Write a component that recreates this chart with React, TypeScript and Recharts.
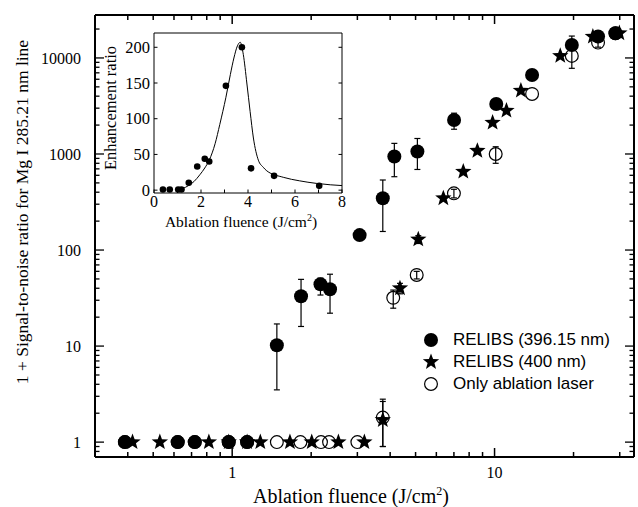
import React from 'react';
import { ScatterChart, ComposedChart, Scatter, Line, XAxis, YAxis, ErrorBar, Legend } from 'recharts';

const SERIF = '"Liberation Serif", "Times New Roman", serif';
const SANS = '"Liberation Sans", Arial, sans-serif';

// RELIBS (396.15 nm) - filled circles
const relibs396X = [0.39, 0.62, 0.72, 0.97, 1.14, 1.48, 1.83, 2.17, 2.36, 3.06, 3.75, 4.15, 5.08, 7.01, 10.15, 13.9, 19.7, 24.8, 28.9];
const relibs396Y = [1, 1, 1, 1, 1, 10.2, 33, 44, 39, 143, 346, 940, 1060, 2260, 3320, 6650, 13650, 16700, 18100];
const relibs396Err = [null, null, null, null, null, [6.7, 6.8], [17, 16.5], [10, 7], [17, 17], null, [190, 190], [360, 350], [370, 390], [450, 400], null, null, null, [1200, 1200], null];

// RELIBS (400 nm) - stars
const relibs400X = [0.417, 0.53, 0.815, 0.97, 1.14, 1.28, 1.66, 2.01, 2.54, 3.19, 3.75, 4.36, 5.12, 6.38, 7.6, 8.6, 9.83, 11.1, 12.6, 17.8, 23.7, 29.9];
const relibs400Y = [1, 1, 1, 1, 1, 1, 1, 1, 1, 1, 1.7, 40, 129, 346, 655, 1080, 2120, 2830, 4570, 10500, 16700, 18100];
const relibs400Err = [null, null, null, null, null, null, null, null, null, null, [0.8, 0.95], [5, 5], [12, 12], null, null, null, null, null, null, null, null, null];

// Only ablation laser - open circles
const ablationX = [0.39, 0.62, 0.72, 0.97, 1.14, 1.48, 1.82, 2.18, 2.34, 3.0, 3.75, 4.11, 5.05, 7.0, 10.1, 13.9, 19.7, 24.8, 28.9];
const ablationY = [1, 1, 1, 1, 1, 1, 1, 1, 1, 1, 1.8, 31.8, 55, 389, 1000, 4220, 10500, 14450, 18100];
const ablationErr = [null, null, null, null, null, null, null, null, null, null, [0.9, 1.0], [7, 6.5], [5, 5], [40, 40], [200, 190], null, [2700, 6400], [1500, 1500], null];

const xTicks = [0.4, 0.5, 0.6, 0.7, 0.8, 0.9, 1, 2, 3, 4, 5, 6, 7, 8, 9, 10, 20, 30];
const xTickLabels = [1, 10];
const yTicks = [0.8, 0.9, 1, 2, 3, 4, 5, 6, 7, 8, 9, 10, 20, 30, 40, 50, 60, 70, 80, 90, 100, 200, 300, 400, 500, 600, 700, 800, 900,
  1000, 2000, 3000, 4000, 5000, 6000, 7000, 8000, 9000, 10000, 20000];
const yTickLabels = [1, 10, 100, 1000, 10000];

// inset: enhancement ratio
const insetX = [0.38, 0.67, 1.03, 1.17, 1.48, 1.84, 2.16, 2.35, 3.06, 3.74, 4.13, 5.11, 7.03];
const insetY = [1, 1, 1, 1, 10.3, 33, 44, 40, 146, 200, 30.5, 20, 6];
const fitX = [1.05, 1.2, 1.48, 1.7, 1.95, 2.16, 2.35, 2.6, 2.8, 3.06, 3.25, 3.4, 3.55, 3.67, 3.8, 3.95, 4.09, 4.23, 4.44, 4.65, 4.8, 5.5, 6.2, 6.9, 7.5, 8.0];
const fitY = [0.5, 2, 6.6, 12, 21.5, 31, 42, 65, 92, 130, 162, 185, 202, 207, 190, 150, 110, 73, 42, 32, 27, 18, 13, 9.5, 7.5, 6.4];
const insetXTicks = [0, 1, 2, 3, 4, 5, 6, 7, 8];
const insetXLabels = [0, 2, 4, 6, 8];
const insetYTicks = [0, 50, 100, 150, 200];

const toRows = (xs: number[], ys: number[], errs?: any[]) =>
  xs.map((x, i) => ({ x, y: ys[i], err: errs ? errs[i] ?? undefined : undefined }));

const relibs396 = toRows(relibs396X, relibs396Y, relibs396Err);
const relibs400 = toRows(relibs400X, relibs400Y, relibs400Err);
const ablation = toRows(ablationX, ablationY, ablationErr);
const insetPoints = toRows(insetX, insetY);
const fitLine = toRows(fitX, fitY);

const isDecade = (v: number) => Math.abs(Math.log10(v) - Math.round(Math.log10(v))) < 1e-6;

const starPath = (cx: number, cy: number, R: number, r: number) => {
  let d = '';
  for (let i = 0; i < 10; i++) {
    const rad = i % 2 === 0 ? R : r;
    const a = -Math.PI / 2 + (i * Math.PI) / 5;
    d += (i === 0 ? 'M' : 'L') + (cx + rad * Math.cos(a)).toFixed(2) + ',' + (cy + rad * Math.sin(a)).toFixed(2);
  }
  return d + 'Z';
};

const FilledDot = (p: any) => <circle cx={p.cx} cy={p.cy} r={7} fill="#000" />;
const OpenDot = (p: any) => <circle cx={p.cx} cy={p.cy} r={6.4} fill="none" stroke="#000" strokeWidth={1.2} />;
const StarDot = (p: any) => <path d={starPath(p.cx, p.cy, 8.6, 3.6)} fill="#000" />;
const SmallDot = (p: any) => <circle cx={p.cx} cy={p.cy} r={3.3} fill="#000" />;

const BottomTick = (p: any) => {
  const v = p.payload.value;
  const major = isDecade(v);
  return (
    <g>
      <line x1={p.x} x2={p.x} y1={p.y} y2={p.y - (major ? 9 : 5)} stroke="#000" strokeWidth={1.5} />
      {xTickLabels.includes(v) && (
        <text x={p.x} y={p.y + 21} textAnchor="middle" fontFamily={SERIF} fontSize={16} fill="#000">{v}</text>
      )}
    </g>
  );
};
const TopTick = (p: any) => (
  <line x1={p.x} x2={p.x} y1={p.y} y2={p.y + (isDecade(p.payload.value) ? 9 : 5)} stroke="#000" strokeWidth={1.5} />
);
const LeftTick = (p: any) => {
  const v = p.payload.value;
  const major = isDecade(v);
  return (
    <g>
      <line x1={p.x} x2={p.x + (major ? 9 : 4.5)} y1={p.y} y2={p.y} stroke="#000" strokeWidth={1.3} />
      {yTickLabels.includes(v) && (
        <text x={p.x - 14} y={p.y} dy="0.35em" textAnchor="end" fontFamily={SERIF} fontSize={16} fill="#000">{v}</text>
      )}
    </g>
  );
};
const RightTick = (p: any) => (
  <line x1={p.x} x2={p.x - (isDecade(p.payload.value) ? 9 : 4.5)} y1={p.y} y2={p.y} stroke="#000" strokeWidth={1.3} />
);

const InsetBottomTick = (p: any) => {
  const v = p.payload.value;
  return (
    <g>
      <line x1={p.x} x2={p.x} y1={p.y} y2={p.y - 3.5} stroke="#000" strokeWidth={1} />
      {insetXLabels.includes(v) && (
        <text x={p.x} y={p.y + 14} textAnchor="middle" fontFamily={SERIF} fontSize={16} fill="#000">{v}</text>
      )}
    </g>
  );
};
const InsetTopTick = (p: any) => <line x1={p.x} x2={p.x} y1={p.y} y2={p.y + 3.5} stroke="#000" strokeWidth={1} />;
const InsetLeftTick = (p: any) => (
  <g>
    <line x1={p.x} x2={p.x + 3.5} y1={p.y} y2={p.y} stroke="#000" strokeWidth={1} />
    <text x={p.x - 4} y={p.y} dy="0.35em" textAnchor="end" fontFamily={SERIF} fontSize={16.5} fill="#000">{p.payload.value}</text>
  </g>
);
const InsetRightTick = (p: any) => <line x1={p.x} x2={p.x - 3.5} y1={p.y} y2={p.y} stroke="#000" strokeWidth={1} />;

const XTitle = () => (
  <text x={351} y={503} textAnchor="middle" fontFamily={SERIF} fontSize={20} fill="#000">
    Ablation fluence (J/cm<tspan dy={-8} fontSize={12}>2</tspan><tspan dy={8}>)</tspan>
  </text>
);
const YTitle = () => (
  <text x={28} y={212} transform="rotate(-90 28 212)" textAnchor="middle" fontFamily={SERIF} fontSize={17.5} fill="#000">
    1 + Signal-to-noise ratio for Mg I 285.21 nm line
  </text>
);
const InsetXTitle = () => (
  <text x={241} y={227} textAnchor="middle" fontFamily={SERIF} fontSize={15.5} fill="#000">
    Ablation fluence (J/cm<tspan dy={-6} fontSize={10}>2</tspan><tspan dy={6}>)</tspan>
  </text>
);
const InsetYTitle = () => (
  <text x={116} y={108} transform="rotate(-90 116 108)" textAnchor="middle" fontFamily={SERIF} fontSize={16.5} fill="#000">
    Enhancement ratio
  </text>
);

const legendItems = [
  { name: 'RELIBS (396.15 nm)', kind: 'filled' },
  { name: 'RELIBS (400 nm)', kind: 'star' },
  { name: 'Only ablation laser', kind: 'open' },
];

const renderLegend = () => (
  <div style={{ fontFamily: SANS, fontSize: 17, color: '#000' }}>
    {legendItems.map((it) => (
      <div key={it.name} style={{ display: 'flex', alignItems: 'center', height: 22 }}>
        <svg width={20} height={22}>
          {it.kind === 'filled' && <circle cx={10} cy={11} r={7} fill="#000" />}
          {it.kind === 'open' && <circle cx={10} cy={11} r={6.4} fill="none" stroke="#000" strokeWidth={1.2} />}
          {it.kind === 'star' && <path d={starPath(10, 11, 8.6, 3.6)} fill="#000" />}
        </svg>
        <span style={{ marginLeft: 12 }}>{it.name}</span>
      </div>
    ))}
  </div>
);

const logXProps = { type: 'number' as const, dataKey: 'x', scale: 'log' as const, domain: [0.3, 34], allowDataOverflow: true, ticks: xTicks, interval: 0 as const, tickSize: 0, tickMargin: 0, tickLine: false, axisLine: { stroke: '#000', strokeWidth: 2 } };
const logYProps = { type: 'number' as const, dataKey: 'y', scale: 'log' as const, domain: [0.7, 28000], allowDataOverflow: true, ticks: yTicks, interval: 0 as const, tickSize: 0, tickMargin: 0, tickLine: false, axisLine: { stroke: '#000', strokeWidth: 2 } };

export default function App() {
  return (
    <div style={{ position: 'absolute', left: 0, top: 0, width: 638, height: 507, background: '#fff' }}>
      <ScatterChart width={638} height={507} margin={{ top: 5, right: 2, bottom: 20, left: 35 }}>
        <XAxis xAxisId="b" {...logXProps} height={30} tick={BottomTick} label={XTitle} />
        <XAxis xAxisId="t" orientation="top" {...logXProps} height={10} tick={TopTick} />
        <YAxis yAxisId="l" {...logYProps} width={60} tick={LeftTick} label={YTitle} />
        <YAxis yAxisId="r" orientation="right" {...logYProps} width={2} tick={RightTick} />
        <Legend layout="vertical" align="center" verticalAlign="middle" content={renderLegend}
          wrapperStyle={{ left: 421, top: 329, width: 210 }} />
        <Scatter name="Only ablation laser" data={ablation} xAxisId="b" yAxisId="l" shape={OpenDot} isAnimationActive={false}>
          <ErrorBar dataKey="err" direction="y" width={3} stroke="#000" strokeWidth={1.2} />
        </Scatter>
        <Scatter name="RELIBS (396.15 nm)" data={relibs396} xAxisId="b" yAxisId="l" shape={FilledDot} isAnimationActive={false}>
          <ErrorBar dataKey="err" direction="y" width={3} stroke="#000" strokeWidth={1.2} />
        </Scatter>
        <Scatter name="RELIBS (400 nm)" data={relibs400} xAxisId="b" yAxisId="l" shape={StarDot} isAnimationActive={false}>
          <ErrorBar dataKey="err" direction="y" width={3} stroke="#000" strokeWidth={1.2} />
        </Scatter>
      </ScatterChart>

      <div style={{ position: 'absolute', left: 0, top: 0 }}>
        <ComposedChart width={350} height={240} margin={{ top: 28, right: 6, bottom: 27, left: 124 }}>
          <XAxis xAxisId="b" type="number" dataKey="x" domain={[0, 8]} ticks={insetXTicks} interval={0} tickSize={0} tickMargin={0}
            tickLine={false} height={20} axisLine={{ stroke: '#000', strokeWidth: 1 }} tick={InsetBottomTick} label={InsetXTitle} />
          <XAxis xAxisId="t" orientation="top" type="number" dataKey="x" domain={[0, 8]} ticks={insetXTicks} interval={0} tickSize={0}
            tickMargin={0} tickLine={false} height={5} axisLine={{ stroke: '#000', strokeWidth: 1 }} tick={InsetTopTick} />
          <YAxis yAxisId="l" type="number" dataKey="y" domain={[-4, 220]} allowDataOverflow ticks={insetYTicks} interval={0} tickSize={0}
            tickMargin={0} tickLine={false} width={30} axisLine={{ stroke: '#000', strokeWidth: 1 }} tick={InsetLeftTick} label={InsetYTitle} />
          <YAxis yAxisId="r" orientation="right" type="number" dataKey="y" domain={[-4, 220]} allowDataOverflow ticks={insetYTicks} interval={0}
            tickSize={0} tickMargin={0} tickLine={false} width={2} axisLine={{ stroke: '#000', strokeWidth: 1 }} tick={InsetRightTick} />
          <Line data={fitLine} dataKey="y" xAxisId="b" yAxisId="l" type="monotone" stroke="#000" strokeWidth={1} dot={false} isAnimationActive={false} />
          <Scatter data={insetPoints} dataKey="y" xAxisId="b" yAxisId="l" shape={SmallDot} isAnimationActive={false} />
        </ComposedChart>
      </div>
    </div>
  );
}
